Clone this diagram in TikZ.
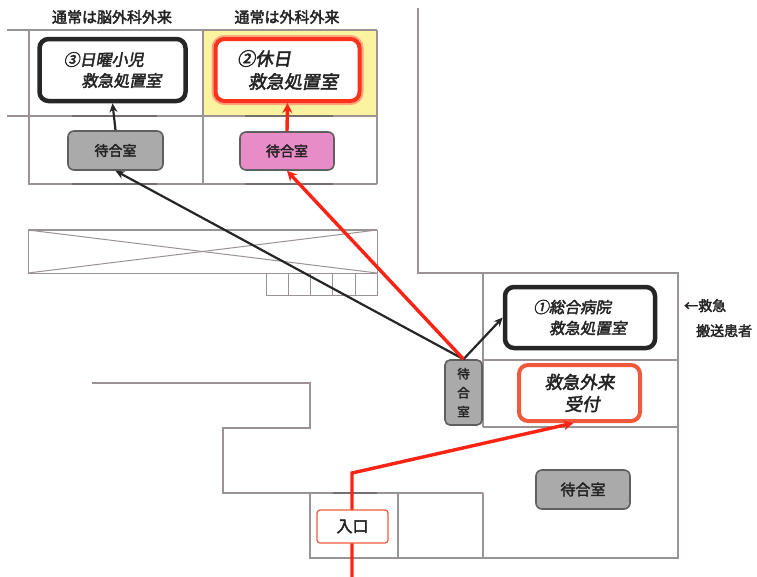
\documentclass[tikz,border=0pt]{standalone}
\usepackage{fontspec}
\usetikzlibrary{arrows.meta}
\newfontfamily\jpb[FakeBold=2.5]{Noto Sans CJK JP}
\newfontfamily\jpbi[FakeBold=2.5,FakeSlant=0.18]{Noto Sans CJK JP}
\definecolor{wall}{RGB}{155,147,147}
\definecolor{arrred}{RGB}{250,35,20}
\definecolor{boxred}{RGB}{250,50,30}
\definecolor{halo}{RGB}{255,165,125}
\definecolor{ukred}{RGB}{240,90,60}
\definecolor{paleyellow}{RGB}{252,243,160}
\definecolor{pinkfill}{RGB}{232,140,200}
\definecolor{grayfill}{RGB}{170,170,170}
\definecolor{grayedge}{RGB}{95,95,95}
\definecolor{txt}{RGB}{35,35,35}
\tikzset{
  wallline/.style={draw=wall, line width=1.4pt},
  thinwall/.style={draw=wall, line width=1pt},
  doorline/.style={draw=wall!75!black, line width=2.6pt},
  roombox/.style={rounded corners=9pt, fill=white, inner sep=0pt, text=txt, align=left},
  blackroom/.style={roombox, draw=black!85, line width=4.5pt},
  waitbox/.style={rounded corners=6pt, draw=grayedge, line width=1.6pt, fill=grayfill, inner sep=0pt, text=txt, font=\jpb\fontsize{14}{16}\selectfont},
  blackarrow/.style={draw=black!85, line width=2.2pt, -{Stealth[length=9pt,width=8pt]}},
  redarrow/.style={draw=arrred, line width=3.4pt, -{Stealth[length=10pt,width=10pt]}},
  lbl/.style={text=txt, font=\jpb\fontsize{15}{17}\selectfont, inner sep=0pt}
}
\begin{document}
\begin{tikzpicture}[x=1pt,y=-1pt]
\useasboundingbox (0,0) rectangle (757,576);
% upper rooms
\fill[paleyellow] (203,30) rectangle (377,116);
\draw[wallline] (7,30) -- (377,30);
\draw[wallline] (7,116) -- (377,116);
\draw[wallline] (29,30) -- (29,184) -- (377,184);
\draw[wallline] (203,30) -- (203,184);
\draw[wallline] (377,30) -- (377,184);
\draw[doorline] (72,116) -- (157,116);
\draw[doorline] (245,116) -- (333,116);
\draw[doorline] (72,184) -- (157,184);
\draw[doorline] (245,184) -- (333,184);
% crossed void
\draw[thinwall] (28,230) rectangle (377,273);
\draw[wall, line width=2.4pt] (28,230) -- (377,230);
\draw[thinwall] (28,230) -- (377,273);
\draw[thinwall] (28,273) -- (377,230);
\draw[thinwall] (266,273) -- (266,295) -- (377,295) -- (377,273);
\foreach \gx in {288,310,332,355} \draw[thinwall] (\gx,273) -- (\gx,295);
% right building and corridor
\draw[wallline] (418,8) -- (418,273) -- (678,273) -- (678,558) -- (310,558) -- (310,493);
\draw[wallline] (92,383) -- (310,383) -- (310,428) -- (223,428) -- (223,493) -- (483,493);
\draw[doorline] (333,493) -- (377,493);
\draw[wallline] (398,493) -- (398,558);
\draw[wallline] (483,273) -- (483,427);
\draw[wallline] (483,493) -- (483,558);
\draw[wallline] (483,360) -- (678,360);
\draw[wallline] (483,427) -- (678,427);
% labels
\node[lbl] (lab3) at (112,17) {通常は脳外科外来};
\node[lbl] (lab2) at (287,17) {通常は外科外来};
\node[lbl, anchor=north west, align=left, font=\jpb\fontsize{14}{25}\selectfont] (ems) at (684,299) {←救急\\\hspace{0.85em}搬送患者};
% rooms
\node[blackroom, minimum width=146pt, minimum height=62pt, font=\jpbi\fontsize{16}{21}\selectfont] (r3) at (112.5,70) {③日曜小児\\\hspace{1.1em}救急処置室};
\node[roombox, draw=boxred, line width=4pt, preaction={draw=halo, line width=8pt}, minimum width=144pt, minimum height=62pt, font=\jpbi\fontsize{18}{23}\selectfont] (r2) at (287.5,70) {②休日\\\hspace{0.6em}救急処置室};
\node[blackroom, minimum width=150pt, minimum height=61pt, font=\jpbi\fontsize{15.5}{21}\selectfont] (r1) at (580,317.5) {①総合病院\\\hspace{1em}救急処置室};
\node[roombox, draw=ukred, line width=4pt, align=center, minimum width=121pt, minimum height=56pt, font=\jpbi\fontsize{17.5}{22}\selectfont] (uk) at (579.5,393) {救急外来\\\hspace{0.3em}受付};
\node[waitbox, minimum width=95pt, minimum height=39pt] (w3) at (115.5,150.5) {待合室};
\node[waitbox, fill=pinkfill, minimum width=94pt, minimum height=38pt] (w2) at (287,151) {待合室};
\node[waitbox, rounded corners=5pt, align=center, minimum width=37pt, minimum height=65pt, font=\jpb\fontsize{12.5}{19}\selectfont] (wv) at (463.5,392.5) {待\\合\\室};
\node[waitbox, minimum width=94pt, minimum height=39pt, font=\jpb\fontsize{15}{17}\selectfont] (wb) at (583,489.5) {待合室};
% connectors
\coordinate (entry) at (352,578);
\coordinate (turn) at (352,473);
\draw[redarrow] (entry) -- (turn) -- ([xshift=-6pt]uk.south);
\draw[blackarrow] (wv.north) -- (w3.south);
\draw[blackarrow] (wv.north) -- (r1.west);
\draw[redarrow] (wv.north) -- (w2.south);
\draw[blackarrow] (w3.north) -- (r3.south);
\draw[redarrow] (w2.north) -- (r2.south);
% entrance
\node[draw=ukred, line width=1.2pt, fill=white, rounded corners=3pt, minimum width=71pt, minimum height=33pt, inner sep=0pt, text=txt, font=\jpb\fontsize{16}{18}\selectfont] (ent) at (352.5,526.5) {入口};
\end{tikzpicture}
\end{document}
